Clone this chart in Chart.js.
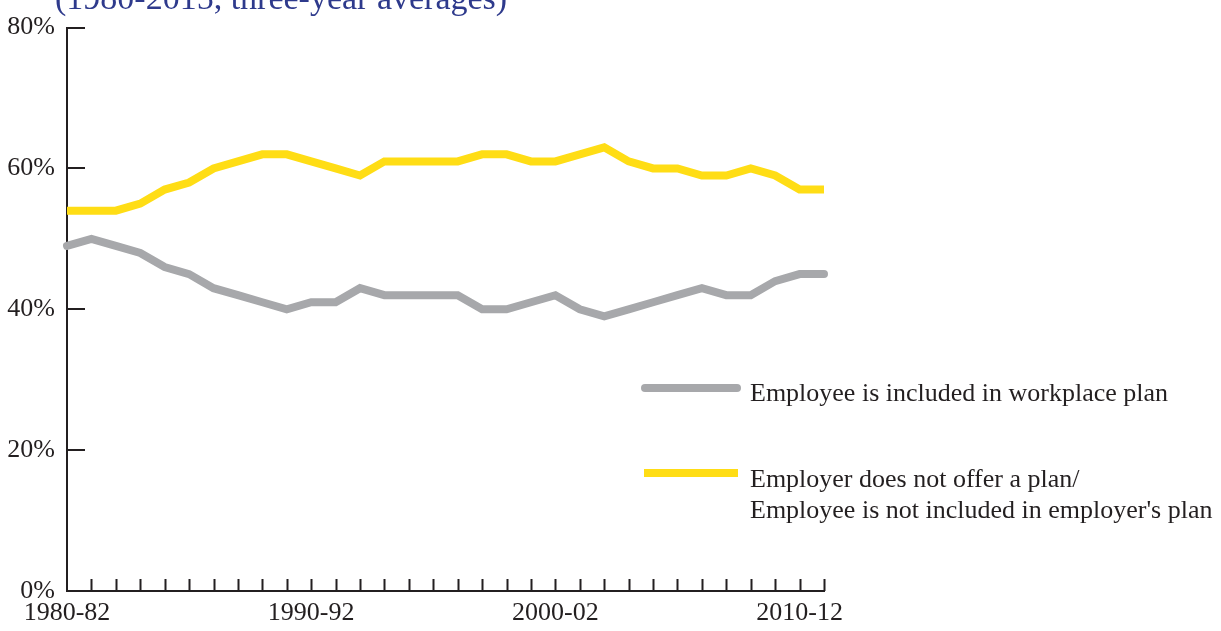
<!DOCTYPE html>
<html>
<head>
<meta charset="utf-8">
<script src="https://cdn.jsdelivr.net/npm/chart.js@4.4.1/dist/chart.umd.min.js"></script>
<style>
  html, body { margin: 0; padding: 0; background: #ffffff; }
  #wrap { position: relative; width: 1221px; height: 631px; overflow: hidden; }
  #chart { position: absolute; left: 0; top: 0; }
  .title {
    position: absolute; left: 55px; top: -21px; white-space: nowrap;
    font-family: "Liberation Serif", "DejaVu Serif", serif; font-size: 34px;
    color: #2e3a8c; line-height: 38px;
  }
  .legend { position: absolute; font-family: "Liberation Serif", "DejaVu Serif", serif;
    font-size: 26px; color: #231f20; line-height: 31px; white-space: nowrap; }
  .swatch { position: absolute; height: 8px; }
</style>
</head>
<body>
<div id="wrap">
  <canvas id="chart" width="1221" height="631"></canvas>
  <div class="title">(1980-2015, three-year averages)</div>
  <div class="swatch" style="left:641px; top:384px; width:100px; background:#a7a8ab; border-radius:4px;"></div>
  <div class="legend" style="left:750px; top:377px;">Employee is included in workplace plan</div>
  <div class="swatch" style="left:644px; top:469px; width:94px; background:#ffdd15;"></div>
  <div class="legend" style="left:750px; top:463px;">Employer does not offer a plan/<br>Employee is not included in employer's plan</div>
</div>
<script>
// Three-year periods, 1980-82 through 2011-13
const periods = [
  "1980-82","1981-83","1982-84","1983-85","1984-86","1985-87","1986-88","1987-89",
  "1988-90","1989-91","1990-92","1991-93","1992-94","1993-95","1994-96","1995-97",
  "1996-98","1997-99","1998-00","1999-01","2000-02","2001-03","2002-04","2003-05",
  "2004-06","2005-07","2006-08","2007-09","2008-10","2009-11","2010-12","2011-13"
];

// Share of workers (%)
const includedInPlan = [
  49, 50, 49, 48, 46, 45, 43, 42, 41, 40, 41, 41, 43, 42, 42, 42,
  42, 40, 40, 41, 42, 40, 39, 40, 41, 42, 43, 42, 42, 44, 45, 45
];
const notOfferedOrIncluded = [
  54, 54, 54, 55, 57, 58, 60, 61, 62, 62, 61, 60, 59, 61, 61, 61,
  61, 62, 62, 61, 61, 62, 63, 61, 60, 60, 59, 59, 60, 59, 57, 57
];

const yTicks = [0, 20, 40, 60, 80];
const labelEvery = 10;

const axisColor = "#231f20";
const serif = "'Liberation Serif', 'DejaVu Serif', serif";

// Short tick marks pointing into the plot area
const innerTicks = {
  id: "innerTicks",
  afterDraw(chart) {
    const { ctx, scales: { x, y }, chartArea } = chart;
    ctx.save();
    ctx.strokeStyle = axisColor;
    ctx.lineWidth = 2;
    ctx.beginPath();
    yTicks.forEach(v => {
      if (v === 0) return;
      const py = Math.round(y.getPixelForValue(v));
      ctx.moveTo(chartArea.left, py);
      ctx.lineTo(chartArea.left + 18, py);
    });
    periods.forEach((p, i) => {
      if (i === 0) return;
      const px = Math.round(x.getPixelForValue(i)) + 0.5;
      ctx.moveTo(px, chartArea.bottom);
      ctx.lineTo(px, chartArea.bottom - 12);
    });
    ctx.stroke();
    ctx.restore();
  }
};

new Chart(document.getElementById("chart"), {
  type: "line",
  data: {
    labels: periods,
    datasets: [
      {
        label: "Employee is included in workplace plan",
        data: includedInPlan,
        borderColor: "#a7a8ab",
        borderWidth: 8,
        borderCapStyle: "round",
        borderJoinStyle: "miter",
        pointRadius: 0,
        tension: 0,
        clip: false
      },
      {
        label: "Employer does not offer a plan/ Employee is not included in employer's plan",
        data: notOfferedOrIncluded,
        borderColor: "#ffdd15",
        borderWidth: 8,
        borderCapStyle: "butt",
        borderJoinStyle: "miter",
        pointRadius: 0,
        tension: 0,
        clip: false
      }
    ]
  },
  options: {
    responsive: false,
    animation: false,
    events: [],
    layout: { padding: { top: 24, right: 397, bottom: 0, left: 0 } },
    plugins: { legend: { display: false }, tooltip: { enabled: false } },
    scales: {
      x: {
        offset: false,
        grid: { display: false, drawTicks: false },
        border: { display: true, color: axisColor, width: 2 },
        afterFit(scale) { scale.height = 40; },
        ticks: {
          autoSkip: false,
          maxRotation: 0,
          padding: 7,
          color: axisColor,
          font: { family: serif, size: 26 },
          callback(value, index) { return index % labelEvery === 0 ? periods[index] : ""; }
        }
      },
      y: {
        min: 0,
        max: 80,
        grid: { display: false, drawTicks: false },
        border: { display: true, color: axisColor, width: 2 },
        afterFit(scale) { scale.width = 67; },
        afterBuildTicks(scale) { scale.ticks = yTicks.map(v => ({ value: v })); },
        ticks: {
          padding: 12,
          color: axisColor,
          font: { family: serif, size: 26 },
          callback(value) { return value + "%"; }
        }
      }
    }
  },
  plugins: [innerTicks]
});
</script>
</body>
</html>
